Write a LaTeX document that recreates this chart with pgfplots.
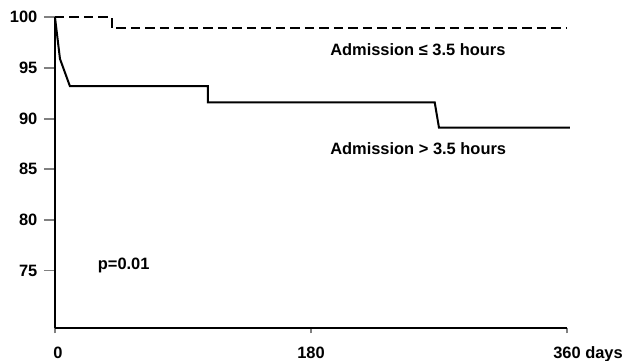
\documentclass[border=0pt]{standalone}
\usepackage{pgfplots}
\pgfplotsset{compat=1.18}
\usepackage{fontspec}
\setmainfont{Liberation Sans}
\newcommand\ff{\fontsize{16.5}{19}\selectfont\bfseries}
\begin{document}
\ff
\begin{tikzpicture}
\begin{axis}[
  scale only axis, width=512bp, height=311bp,
  xmin=0, xmax=360, ymin=69.3, ymax=100,
  axis x line=bottom, axis y line=left,
  axis line style={-, line width=2bp},
  xtick={0,180,360}, xticklabels={{\hspace{6bp}0},180,{360\rlap{ days}}},
  ytick={75,80,85,90,95,100},
  tick align=outside,
  major tick length=11bp,
  x tick style={line width=1.8bp, /pgfplots/major tick length=5bp},
  y tick style={line width=1.8bp},
  ticklabel style={font=\ff},
  xticklabel style={yshift=-2bp},
  yticklabel style={xshift=-1bp},
  /pgf/number format/assume math mode=true,
  clip=false,
]
\addplot[black, line width=2bp, dash pattern=on 9.5bp off 5bp] coordinates {
  (0,100) (40,100) (40,98.9) (360,98.9)};
\addplot[black, line width=2bp] coordinates {
  (0,100) (3.5,95.9) (10.5,93.2) (107.5,93.2) (107.5,91.6) (267,91.6) (270,89.1) (362,89.1)};
\node[anchor=base west, font=\ff, inner sep=0pt] at (axis cs:193.4,96.28) {Admission ≤ 3.5 hours};
\node[anchor=base west, font=\ff, inner sep=0pt] at (axis cs:193.4,86.42) {Admission > 3.5 hours};
\node[anchor=base west, font=\ff, inner sep=0pt] at (axis cs:30,75.08) {p=0.01};
\coordinate (bbsw) at (axis cs:-38.67,66.08);
\coordinate (bbne) at (axis cs:402.9,101.71);
\end{axis}
\pgfresetboundingbox
\path (bbsw) rectangle (bbne);
\end{tikzpicture}
\end{document}
